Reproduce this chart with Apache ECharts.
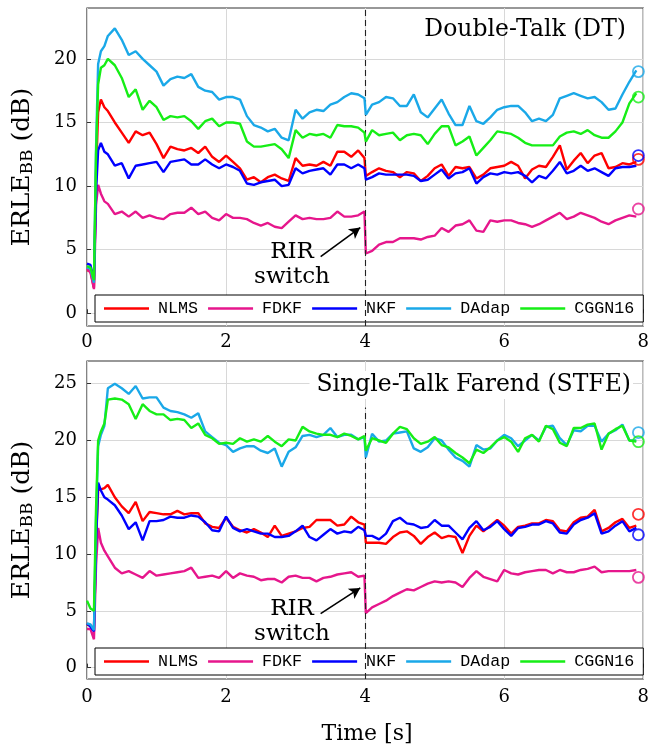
<!DOCTYPE html>
<html>
<head>
<meta charset="utf-8">
<script src="https://cdn.jsdelivr.net/npm/echarts@6/dist/echarts.min.js"></script>
<style>
  html, body { margin: 0; padding: 0; background: #fff; }
  #chart { width: 652px; height: 749px; }
</style>
</head>
<body>
<div id="chart"></div>
<script>
// Sample times [s]
const time = [0, 0.05, 0.1, 0.13, 0.16, 0.2, 0.25, 0.3, 0.4, 0.5, 0.6, 0.7, 0.8, 0.9, 1.0, 1.1, 1.2, 1.3, 1.4, 1.5, 1.6, 1.7, 1.8, 1.9, 2.0,
  2.1, 2.2, 2.3, 2.4, 2.5, 2.6, 2.7, 2.8, 2.9, 3.0, 3.1, 3.2, 3.3, 3.4, 3.5, 3.6, 3.7, 3.8, 3.9, 3.99,
  4.01, 4.1, 4.2, 4.3, 4.4, 4.5, 4.6, 4.7, 4.8, 4.9, 5.0, 5.1, 5.2, 5.3, 5.4, 5.5, 5.6, 5.7, 5.8, 5.9, 6.0,
  6.1, 6.2, 6.3, 6.4, 6.5, 6.6, 6.7, 6.8, 6.9, 7.0, 7.1, 7.2, 7.3, 7.4, 7.5, 7.6, 7.7, 7.8, 7.9];

const algorithms = ['NLMS', 'FDKF', 'NKF', 'DAdap', 'CGGN16'];

// ERLE_BB [dB], double-talk scenario
const dtNLMS = [3.4, 3.3, 2.0, 11.0, 15.8, 16.8, 16.2, 15.9, 15.0, 14.2, 13.4, 14.3, 14.0, 14.2, 13.3, 12.2, 13.1, 12.9, 12.8, 13.0, 12.6, 13.1, 12.3, 11.9, 12.4,
  11.9, 11.4, 10.5, 10.7, 10.3, 10.7, 10.9, 10.6, 10.4, 12.2, 11.6, 11.7, 11.6, 11.9, 11.6, 12.7, 12.7, 12.3, 12.8, 12.2,
  10.8, 11.1, 11.4, 11.2, 11.1, 10.7, 11.1, 11.0, 10.4, 10.8, 11.4, 11.7, 10.8, 11.5, 11.4, 11.5, 10.6, 10.9, 11.4, 11.5, 11.6,
  11.9, 11.6, 10.6, 11.3, 11.6, 11.5, 12.3, 13.2, 11.3, 12.0, 12.6, 11.8, 12.4, 12.6, 11.4, 11.5, 11.8, 11.7, 11.9];
const dtFDKF = [3.5, 3.2, 1.9, 8.5, 10.1, 9.4, 8.8, 8.6, 7.8, 8.0, 7.6, 8.0, 7.5, 7.7, 7.5, 7.4, 7.8, 7.9, 7.9, 8.3, 7.8, 8.0, 7.5, 7.3, 7.8,
  7.5, 7.5, 7.4, 7.1, 6.9, 7.1, 6.8, 6.7, 7.2, 7.7, 7.4, 7.5, 7.4, 7.4, 7.5, 8.0, 7.6, 7.6, 7.7, 8.0,
  4.7, 4.9, 5.4, 5.6, 5.6, 5.9, 5.9, 5.9, 5.8, 6.0, 6.1, 6.7, 6.4, 6.9, 7.0, 7.3, 6.5, 6.4, 7.3, 7.2, 7.3,
  7.3, 7.1, 7.0, 6.8, 7.0, 7.3, 7.6, 7.9, 7.4, 7.6, 7.9, 7.7, 7.5, 7.2, 7.0, 7.3, 7.5, 7.7, 7.6];
const dtNKF = [3.9, 3.8, 2.6, 9.5, 12.8, 13.4, 12.7, 12.5, 11.6, 11.8, 10.6, 11.6, 11.7, 11.8, 11.9, 11.1, 11.9, 12.0, 12.1, 11.7, 11.7, 12.1, 11.7, 11.4, 11.7,
  11.5, 11.2, 10.2, 10.1, 10.3, 10.4, 10.5, 10.0, 10.1, 11.4, 11.0, 11.2, 11.3, 11.4, 10.9, 11.7, 11.7, 11.4, 11.7, 11.4,
  10.5, 10.7, 11.0, 10.9, 10.9, 10.9, 10.9, 10.8, 10.4, 10.5, 10.9, 11.3, 10.6, 11.0, 11.1, 11.4, 10.2, 10.7, 11.0, 10.9, 11.1,
  11.0, 11.1, 10.8, 10.3, 10.8, 10.6, 11.2, 11.9, 11.0, 11.2, 11.6, 11.2, 11.4, 11.1, 10.8, 11.4, 11.5, 11.5, 11.6];
const dtDAdap = [3.6, 3.5, 2.4, 13.0, 19.6, 20.6, 21.0, 21.8, 22.4, 21.5, 20.3, 20.6, 20.0, 19.5, 19.0, 17.9, 18.4, 18.6, 18.5, 18.8, 17.8, 17.5, 17.4, 16.8, 17.0,
  17.0, 16.8, 15.5, 14.8, 14.6, 14.3, 14.5, 13.8, 13.6, 16.0, 15.3, 15.8, 16.0, 15.9, 16.4, 16.6, 17.0, 17.3, 17.2, 16.9,
  15.6, 16.4, 16.6, 17.0, 16.9, 16.3, 16.3, 17.2, 15.8, 15.4, 16.1, 16.8, 15.7, 14.8, 14.8, 16.3, 15.1, 14.9, 15.4, 16.0, 16.2,
  16.3, 16.3, 15.8, 15.1, 15.3, 15.1, 15.6, 16.9, 17.1, 17.3, 17.1, 16.9, 17.0, 16.6, 16.0, 16.1, 17.2, 18.2, 19.1];
const dtCGGN16 = [3.7, 3.6, 2.6, 12.5, 18.0, 19.3, 19.5, 20.0, 19.5, 18.5, 17.0, 17.6, 16.0, 16.7, 16.2, 15.2, 15.5, 15.4, 15.5, 15.1, 14.5, 15.1, 15.3, 14.7, 15.0,
  15.0, 14.9, 13.5, 13.1, 13.1, 13.2, 13.3, 12.9, 12.2, 14.4, 13.8, 14.1, 14.0, 14.1, 13.8, 14.8, 14.7, 14.7, 14.6, 14.2,
  13.5, 14.4, 14.0, 14.1, 14.2, 13.6, 14.0, 14.1, 14.0, 13.3, 14.1, 14.7, 14.7, 13.2, 13.5, 13.9, 12.4, 13.0, 13.6, 14.3, 14.2,
  14.1, 13.8, 13.4, 13.2, 13.2, 13.2, 13.2, 13.9, 14.2, 14.3, 14.1, 14.4, 14.0, 13.8, 13.8, 14.3, 15.0, 16.5, 17.3];

// ERLE_BB [dB], single-talk far-end scenario
const stfeNLMS = [3.8, 3.7, 3.3, 11.0, 15.6, 15.7, 15.8, 16.1, 15.0, 14.2, 13.6, 14.6, 12.9, 13.7, 13.6, 13.5, 13.5, 13.8, 13.5, 13.6, 13.6, 12.7, 12.4, 12.3, 13.2,
  12.4, 12.1, 11.9, 12.2, 11.9, 11.5, 12.5, 11.6, 11.8, 12.0, 12.3, 12.4, 13.0, 13.0, 13.0, 12.5, 12.6, 13.3, 12.8, 12.6,
  11.0, 11.0, 11.0, 10.9, 11.5, 11.9, 12.0, 11.6, 10.9, 11.5, 11.9, 11.4, 11.6, 11.5, 10.1, 11.6, 12.5, 12.0, 12.5, 13.0, 12.5,
  11.8, 12.4, 12.5, 12.7, 12.7, 13.0, 12.9, 12.1, 12.0, 12.8, 13.2, 13.3, 13.9, 12.0, 12.3, 12.8, 13.1, 12.3, 12.5];
const stfeFDKF = [3.4, 3.4, 2.5, 9.0, 12.3, 11.0, 10.3, 9.8, 8.8, 8.3, 8.5, 8.2, 7.9, 8.5, 8.1, 8.2, 8.3, 8.4, 8.5, 8.8, 7.9, 8.0, 8.1, 7.9, 8.5,
  7.9, 8.3, 8.1, 8.0, 7.7, 7.8, 7.8, 7.5, 8.0, 8.1, 7.9, 7.9, 7.6, 7.9, 8.0, 8.2, 8.3, 8.4, 8.0, 8.1,
  4.8, 5.3, 5.6, 5.9, 6.3, 6.6, 6.9, 6.8, 7.1, 7.4, 7.6, 7.5, 7.6, 7.5, 7.1, 7.9, 8.5, 8.0, 7.8, 7.6, 8.6,
  8.3, 8.2, 8.4, 8.5, 8.6, 8.6, 8.3, 8.6, 8.4, 8.4, 8.6, 8.7, 8.9, 8.4, 8.5, 8.5, 8.5, 8.5, 8.6];
const stfeNKF = [3.9, 3.6, 3.2, 11.0, 16.3, 15.6, 15.0, 14.8, 14.3, 13.4, 12.2, 12.8, 11.2, 12.9, 12.9, 13.0, 13.3, 13.2, 13.2, 13.4, 13.3, 12.8, 12.1, 12.0, 13.3,
  12.3, 12.0, 12.2, 12.0, 11.8, 11.8, 11.5, 11.5, 11.6, 12.0, 12.5, 11.5, 11.2, 11.7, 12.2, 11.8, 12.0, 11.9, 12.4, 12.1,
  11.6, 11.6, 11.3, 11.8, 12.9, 13.2, 12.7, 12.6, 12.3, 12.4, 13.0, 12.5, 12.5, 11.9, 11.3, 12.3, 12.9, 12.1, 12.4, 12.9, 12.2,
  11.6, 12.3, 12.4, 12.6, 12.6, 12.9, 12.7, 11.9, 11.8, 12.6, 13.0, 13.2, 13.6, 11.8, 12.0, 12.5, 12.9, 12.0, 12.3];
const stfeDAdap = [3.9, 3.8, 3.3, 13.0, 19.5, 20.5, 21.3, 24.6, 25.0, 24.6, 24.1, 24.8, 23.7, 23.8, 23.8, 22.9, 22.6, 22.5, 22.3, 22.0, 22.4, 20.8, 20.3, 19.8, 19.6,
  19.0, 19.3, 19.5, 19.5, 19.1, 18.9, 19.3, 17.7, 19.0, 19.4, 20.4, 20.5, 20.3, 20.5, 21.1, 20.3, 20.5, 20.5, 20.1, 20.3,
  18.5, 20.6, 19.9, 20.0, 20.6, 20.7, 20.8, 19.3, 19.0, 19.4, 20.2, 20.0, 19.2, 18.5, 18.2, 17.7, 19.6, 19.2, 19.3, 20.0, 20.5,
  20.2, 19.5, 20.0, 20.5, 20.0, 21.2, 21.3, 20.2, 19.6, 20.9, 20.8, 21.3, 21.3, 19.9, 20.6, 20.9, 21.4, 20.0, 20.0];
const stfeCGGN16 = [5.9, 5.2, 5.0, 14.0, 20.0, 20.8, 21.5, 23.6, 23.7, 23.6, 23.2, 21.9, 23.2, 22.6, 22.3, 22.3, 21.8, 21.9, 21.8, 21.1, 21.5, 20.5, 20.2, 19.7, 19.8,
  19.7, 20.2, 19.9, 20.1, 19.9, 20.4, 19.9, 19.5, 20.1, 20.0, 21.2, 20.8, 20.6, 20.5, 20.5, 20.3, 20.6, 20.4, 20.1, 20.4,
  19.1, 20.2, 20.0, 19.8, 20.6, 21.2, 21.0, 20.2, 19.7, 19.9, 20.3, 19.6, 19.4, 18.9, 18.5, 18.0, 19.2, 18.9, 19.4, 20.0, 20.3,
  19.9, 19.0, 20.2, 20.5, 19.9, 21.3, 21.0, 19.8, 19.5, 21.1, 21.1, 21.4, 21.5, 19.2, 20.6, 21.0, 21.3, 20.0, 19.9];

// Mean ERLE_BB per algorithm (circles at the right edge), order as in `algorithms`
const meanDT = [12.1, 8.2, 12.4, 19.0, 17.0];
const meanSTFE = [13.5, 7.95, 11.7, 20.7, 19.9];
const meanTime = 7.93;

// Y tick values and the RIR switch instant
const ticksDT = [0, 5, 10, 15, 20];
const ticksSTFE = [0, 5, 10, 15, 20, 25];
const switchTime = 4;

const colors = {
  NLMS: '#ff0000',
  FDKF: '#e6168c',
  NKF: '#0000ff',
  DAdap: '#1aa8e8',
  CGGN16: '#16ee16'
};
const dtData = { NLMS: dtNLMS, FDKF: dtFDKF, NKF: dtNKF, DAdap: dtDAdap, CGGN16: dtCGGN16 };
const stfeData = { NLMS: stfeNLMS, FDKF: stfeFDKF, NKF: stfeNKF, DAdap: stfeDAdap, CGGN16: stfeCGGN16 };

const SERIF = '"DejaVu Serif", "Liberation Serif", serif';
const MONO = '"Liberation Mono", "DejaVu Sans Mono", monospace';
const gridColor = '#d8d8d8';

const pairs = arr => time.map((t, i) => [t, arr[i]]);

function panelSeries(idx, dataMap, means, yMin, dashTop, arrowFrom, arrowTo) {
  const out = algorithms.map((name, k) => {
    const s = {
      type: 'line',
      name: name,
      xAxisIndex: idx,
      yAxisIndex: idx,
      data: pairs(dataMap[name]),
      symbol: 'none',
      showSymbol: false,
      clip: true,
      z: 3 + k,
      lineStyle: { color: colors[name], width: 2.4 },
      itemStyle: { color: colors[name] },
      emphasis: { disabled: true }
    };
    if (k === 0) {
      // dashed marker at the RIR switch
      s.markLine = {
        silent: true, symbol: 'none', animation: false,
        label: { show: false },
        lineStyle: { color: '#222', type: [6, 4], width: 1.1 },
        data: [[{ coord: [switchTime, yMin] }, { coord: [switchTime, dashTop] }]]
      };
    }
    if (k === 1) {
      // arrow from the "RIR switch" note
      s.markLine = {
        silent: true, symbol: ['none', 'arrow'], symbolSize: [9, 11], animation: false,
        label: { show: false },
        lineStyle: { color: '#000', type: 'solid', width: 1.6 },
        data: [[{ coord: arrowFrom }, { coord: arrowTo }]]
      };
    }
    return s;
  });
  algorithms.forEach((name, k) => {
    out.push({
      type: 'scatter',
      name: name + ' mean',
      xAxisIndex: idx,
      yAxisIndex: idx,
      data: [[meanTime, means[k]]],
      symbol: 'circle',
      symbolSize: 11,
      z: 20,
      itemStyle: { color: 'rgba(255,255,255,0)', borderColor: colors[name], borderWidth: 1.8 },
      emphasis: { disabled: true }
    });
  });
  return out;
}

function xAxisCfg(idx, margin) {
  return {
    gridIndex: idx, type: 'value', min: 0, max: 8, interval: 2,
    axisLine: { show: false },
    axisTick: { show: true, inside: true, length: 4, lineStyle: { color: '#333' } },
    axisLabel: { margin: margin, fontFamily: SERIF, fontSize: 18, color: '#000' },
    splitLine: { show: true, lineStyle: { color: gridColor, width: 1 } }
  };
}
function yAxisCfg(idx, min, max, ticks) {
  return {
    gridIndex: idx, type: 'value', min: min, max: max,
    axisLine: { show: false },
    axisTick: { show: true, inside: true, length: 4, customValues: ticks, lineStyle: { color: '#333' } },
    axisLabel: { margin: 10, fontFamily: SERIF, fontSize: 18, color: '#000', customValues: ticks },
    splitLine: { show: true, lineStyle: { color: gridColor, width: 1 } }
  };
}
function legendCfg(top) {
  return {
    data: algorithms,
    left: 95, top: top,
    orient: 'horizontal',
    icon: 'rect',
    itemWidth: 45, itemHeight: 2.5, itemGap: 10,
    padding: [5, 9],
    selectedMode: false,
    backgroundColor: '#fff',
    borderColor: '#000', borderWidth: 1, borderRadius: 0,
    textStyle: { fontFamily: MONO, fontSize: 16.7, color: '#000', padding: [0, 0, 0, 4] }
  };
}

// Rotated y-axis caption with subscript
const measureCtx = document.createElement('canvas').getContext('2d');
function textWidth(str, size) {
  measureCtx.font = size + 'px ' + SERIF;
  return measureCtx.measureText(str).width;
}
function yCaption(cx, cy) {
  const big = 25, small = 17;
  const w1 = textWidth('ERLE', big), w2 = textWidth('BB', small), w3 = textWidth(' (dB)', big);
  const x0 = -(w1 + w2 + w3) / 2;
  const base = { fill: '#000', fontFamily: SERIF, align: 'left', verticalAlign: 'middle' };
  return {
    type: 'group', x: cx, y: cy, rotation: Math.PI / 2, z: 100,
    children: [
      { type: 'text', x: x0, y: 0, style: Object.assign({ text: 'ERLE', fontSize: big }, base) },
      { type: 'text', x: x0 + w1, y: 6, style: Object.assign({ text: 'BB', fontSize: small }, base) },
      { type: 'text', x: x0 + w1 + w2, y: 0, style: Object.assign({ text: ' (dB)', fontSize: big }, base) }
    ]
  };
}
function label(text, x, y, size, align, extra) {
  return {
    type: 'text', x: x, y: y, z: 100,
    style: Object.assign({ text: text, fill: '#000', fontFamily: SERIF, fontSize: size, align: align, verticalAlign: 'middle' }, extra || {})
  };
}

const option = {
  animation: false,
  backgroundColor: '#fff',
  grid: [
    { left: 87, right: 5, top: 8, height: 318, show: true, borderColor: '#333', borderWidth: 1.2, backgroundColor: 'transparent' },
    { left: 87, right: 5, top: 361, height: 318, show: true, borderColor: '#333', borderWidth: 1.2, backgroundColor: 'transparent' }
  ],
  xAxis: [xAxisCfg(0, 7), xAxisCfg(1, 9)],
  yAxis: [yAxisCfg(0, -1, 24, ticksDT), yAxisCfg(1, -1, 27, ticksSTFE)],
  legend: [legendCfg(295), legendCfg(648)],
  series: [].concat(
    panelSeries(0, dtData, meanDT, -1, 24, [3.36, 4.46], [3.93, 6.74]),
    panelSeries(1, stfeData, meanSTFE, -1, 22.9, [3.36, 4.76], [3.93, 7.02])
  ),
  graphic: {
    elements: [
      label('Double-Talk (DT)', 626, 30, 23.5, 'right'),
      label('Single-Talk Farend (STFE)', 633, 385, 23.5, 'right', { backgroundColor: '#fff', padding: [2, 2, 2, 7] }),
      label('RIR', 292, 252, 23, 'center'),
      label('switch', 292, 277, 23, 'center'),
      label('RIR', 292, 609, 23, 'center'),
      label('switch', 292, 634, 23, 'center'),
      label('Time [s]', 367, 734, 22, 'center'),
      yCaption(22, 167),
      yCaption(22, 520)
    ]
  }
};

const chart = echarts.init(document.getElementById('chart'), null, { renderer: 'canvas' });
chart.setOption(option);
</script>
</body>
</html>
